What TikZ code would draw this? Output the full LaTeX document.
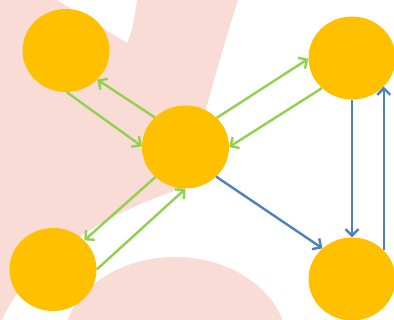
\documentclass[tikz,border=0pt]{standalone}
\usetikzlibrary{shapes.geometric,arrows.meta}
\definecolor{nodeorange}{HTML}{FFC000}
\definecolor{arrgreen}{HTML}{92D050}
\definecolor{arrblue}{HTML}{4F81BD}
\definecolor{wmpink}{HTML}{F9DCD5}
\begin{document}
\begin{tikzpicture}[x=1pt,y=-1pt,
  blob/.style={ellipse, fill=nodeorange, minimum width=87pt, minimum height=83pt, inner sep=0pt},
  garrow/.style={draw=arrgreen, line width=2.4pt, -{Straight Barb[length=6.5pt,width=13pt]}},
  barrow/.style={draw=arrblue, line width=2.4pt, -{Straight Barb[length=6.5pt,width=13pt]}}]
\useasboundingbox (0,0) rectangle (394,320);
% watermark
\fill[wmpink] (0,0) -- (57,0) -- (127,43) .. controls (133,28) .. (137,0) -- (238,0)
  .. controls (224,45) .. (205,112) -- (180,189)
  .. controls (100,215) and (25,265) .. (2,320) -- (0,320) -- cycle;
\fill[wmpink] (175,345) ellipse [x radius=112pt, y radius=88pt];
% nodes
\node[blob] (TL) at (66,50.5) {};
\node[blob] (C)  at (185.5,147) {};
\node[blob] (TR) at (352,58) {};
\node[blob] (BL) at (53,269.5) {};
\node[blob] (BR) at (352,279) {};
% connectors
\draw[garrow] (TL.-89) -- (C.179);
\draw[garrow] (C.136) -- (TL.-43);
\draw[garrow] (C.43) -- (TR.181);
\draw[garrow] (TR.225) -- (C.0);
\draw[garrow] (C.225) -- (BL.43);
\draw[garrow] (BL.0) -- (C.-90);
\draw[barrow] (C.-44) -- (BR.134);
\draw[barrow] (TR.south) -- (BR.north);
\draw[barrow] (BR.42) -- (BR.42 |- TR.-42);
\end{tikzpicture}
\end{document}
